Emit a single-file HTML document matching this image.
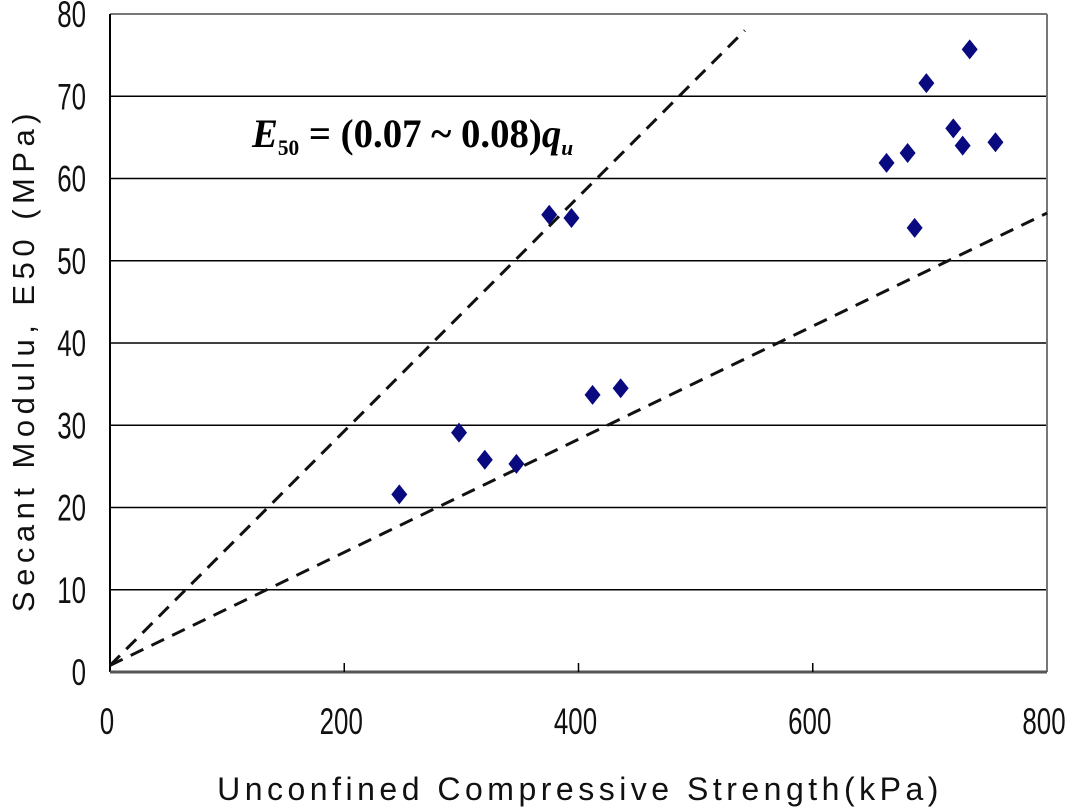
<!DOCTYPE html>
<html><head><meta charset="utf-8"><style>
body{margin:0;background:#fff;}
svg{display:block;}
text{font-family:"Liberation Sans",sans-serif;}
</style></head><body>
<svg id="chart" width="1077" height="807" viewBox="0 0 1077 807">
<g id="grid"></g><g id="lines"></g><g id="points"></g><g id="ticks"></g>
<text x="252" y="147" style="font-family:'Liberation Serif',serif" font-weight="bold" font-size="40" fill="#000" transform="translate(252,147) scale(0.97,1) translate(-252,-147)"><tspan font-style="italic">E</tspan><tspan font-size="22" dy="8">50</tspan><tspan dy="-8"> = (0.07 ~ 0.08)</tspan><tspan font-style="italic">q</tspan><tspan font-style="italic" font-size="22" dy="8">u</tspan></text>
<text x="580" y="800" text-anchor="middle" font-size="32" letter-spacing="4.5" fill="#111">Unconfined Compressive Strength(kPa)</text>
<text transform="translate(34,360) rotate(-90)" text-anchor="middle" font-size="31" letter-spacing="5.5" fill="#111">Secant Modulu, E50 (MPa)</text>
</svg>
<script>
const xTicks=[0,200,400,600,800];
const yTicks=[0,10,20,30,40,50,60,70,80];
const qu=[247,298,320,347,375,394,412,436,663,681,687,697,720,728,734,756];
const e50=[21.6,29.1,25.8,25.3,55.6,55.2,33.7,34.5,61.9,63.1,54.0,71.6,66.1,64.0,75.7,64.4];
const upperLineX=[0,542];
const upperLineY=[0.8,78];
const lowerLineX=[0,800];
const lowerLineY=[0.8,55.8];
const L=110,R=1047,T=14,B=672;
const sx=v=>L+(v-0)/800*(R-L);
const sy=v=>B-(v/80)*(B-T);
const NS="http://www.w3.org/2000/svg";
function mk(t,a,p){const e=document.createElementNS(NS,t);for(const k in a)e.setAttribute(k,a[k]);p.appendChild(e);return e;}
const grid=document.getElementById('grid'),tk=document.getElementById('ticks');
yTicks.forEach(v=>{
 if(v>0&&v<80){const g=mk('line',{x1:L,x2:R,y1:sy(v),y2:sy(v),stroke:'#000','stroke-width':1.5},grid);
 
 }
 const t=mk('text',{x:0,y:0,'text-anchor':'end','font-size':37,fill:'#111',transform:`translate(86,${sy(v)+13}) scale(0.7,1)`},tk);
 t.textContent=v;
 
 
});
xTicks.forEach(v=>{
 if(v>0&&v<800){const l=mk('line',{x1:sx(v),x2:sx(v),y1:B,y2:B-9,stroke:'#000','stroke-width':1.5},tk);
 
 }
 const t=mk('text',{x:0,y:0,'text-anchor':'middle','font-size':37,fill:'#111',transform:`translate(${sx(v)-3},${734}) scale(0.7,1)`},tk);
 t.textContent=v;
 
 
});
let f=mk('line',{x1:L,x2:R,y1:T,y2:T,stroke:'#777','stroke-width':2},grid);


f=mk('line',{x1:R,x2:R,y1:T,y2:B,stroke:'#777','stroke-width':2},grid);


f=mk('line',{x1:L,x2:L,y1:T,y2:B,stroke:'#000','stroke-width':2},grid);


f=mk('line',{x1:L,x2:R,y1:B,y2:B,stroke:'#555','stroke-width':3},grid);


const lg=document.getElementById('lines');
let ln=mk('line',{x1:sx(upperLineX[0]),y1:sy(upperLineY[0]),x2:sx(upperLineX[1]),y2:sy(upperLineY[1]),stroke:'#111','stroke-width':3,'stroke-dasharray':'14,9'},lg);


ln=mk('line',{x1:sx(lowerLineX[0]),y1:sy(lowerLineY[0]),x2:sx(lowerLineX[1]),y2:sy(lowerLineY[1]),stroke:'#111','stroke-width':3,'stroke-dasharray':'14,9'},lg);


const pg=document.getElementById('points');
qu.forEach((q,i)=>{
 const x=sx(q),y=sy(e50[i]);
 const p=mk('polygon',{points:`${x},${y-10} ${x+8},${y} ${x},${y+10} ${x-8},${y}`,fill:'#0a0a80'},pg);
 
 
});
</script>
</body></html>
